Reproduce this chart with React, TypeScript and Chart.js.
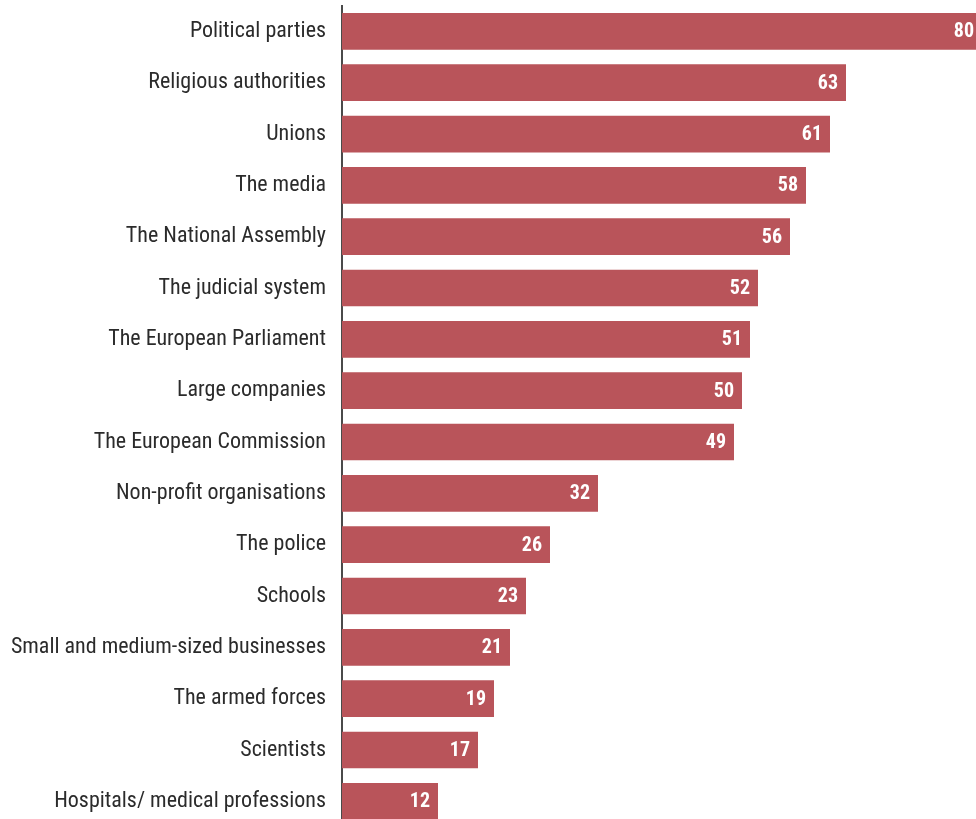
import React, { useEffect, useRef } from "react";
import { Chart, registerables } from "chart.js";

Chart.register(...registerables);

const categories = [
  "Political parties",
  "Religious authorities",
  "Unions",
  "The media",
  "The National Assembly",
  "The judicial system",
  "The European Parliament",
  "Large companies",
  "The European Commission",
  "Non-profit organisations",
  "The police",
  "Schools",
  "Small and medium-sized businesses",
  "The armed forces",
  "Scientists",
  "Hospitals/ medical professions",
];

const values = [80, 63, 61, 58, 56, 52, 51, 50, 49, 32, 26, 23, 21, 19, 17, 12];

const FONT = '"Liberation Sans Narrow", "Roboto Condensed", "DejaVu Sans Condensed", "Arial Narrow", sans-serif';
const BAR_COLOR = "#B9545A";

// Writes each bar's value in white just inside its right end
const valueLabels = {
  id: "valueLabels",
  afterDatasetsDraw(chart: any) {
    const { ctx } = chart;
    const meta = chart.getDatasetMeta(0);
    ctx.save();
    ctx.font = `bold 20px ${FONT}`;
    ctx.fillStyle = "#ffffff";
    ctx.textAlign = "right";
    ctx.textBaseline = "middle";
    meta.data.forEach((bar: any, i: number) => {
      ctx.fillText(String(values[i]), bar.x - 8, bar.y + 1);
    });
    ctx.restore();
  },
};

export default function App() {
  const canvasRef = useRef<HTMLCanvasElement | null>(null);

  useEffect(() => {
    if (!canvasRef.current) return;
    const chart = new Chart(canvasRef.current, {
      type: "bar",
      data: {
        labels: categories,
        datasets: [
          {
            data: values,
            backgroundColor: BAR_COLOR,
            borderWidth: 0,
            barPercentage: 0.715,
            categoryPercentage: 1,
          },
        ],
      },
      options: {
        indexAxis: "y",
        animation: false,
        responsive: false,
        maintainAspectRatio: false,
        layout: { padding: { top: 5.7, right: 0, bottom: 0, left: 0 } },
        plugins: {
          legend: { display: false },
          tooltip: { enabled: false },
        },
        scales: {
          x: {
            display: false,
            min: 0,
            max: 80,
          },
          y: {
            afterFit(scale: any) {
              scale.width = 342;
              scale.paddingTop = 0;
              scale.paddingBottom = 0;
            },
            grid: { display: false, drawTicks: false },
            border: { display: true, color: "#4a4a4a", width: 2 },
            ticks: {
              padding: 16,
              color: "#2b2b2b",
              font: { family: FONT, size: 22 },
            },
          },
        },
      },
      plugins: [valueLabels],
    });
    return () => chart.destroy();
  }, []);

  return (
    <div
      style={{
        position: "fixed",
        top: 0,
        left: 0,
        width: 976,
        height: 819,
        overflow: "hidden",
        background: "#ffffff",
      }}
    >
      <canvas
        ref={canvasRef}
        width={982}
        height={827}
        style={{ display: "block", width: 982, height: 827 }}
      />
    </div>
  );
}
